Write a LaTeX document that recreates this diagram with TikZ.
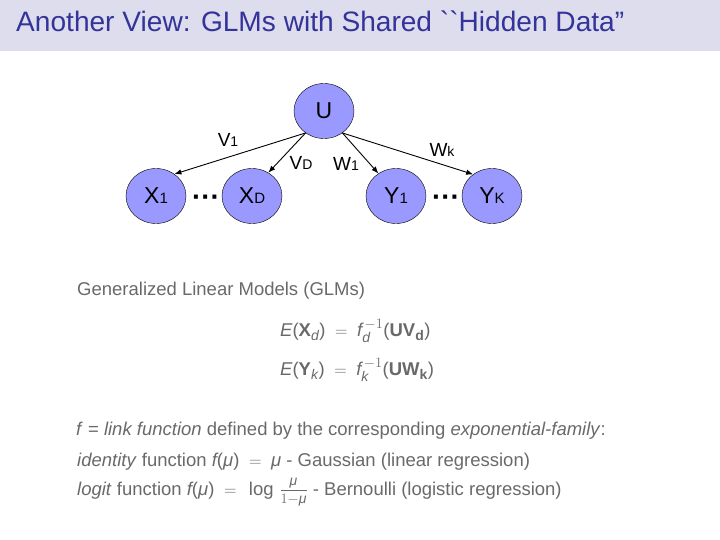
\documentclass[tikz,border=0pt]{standalone}
\usepackage{amsmath}
\usepackage{fontspec}
\setmainfont{Liberation Sans}
\newfontfamily\plainsans{Liberation Sans}[Ligatures=TeXOff]
\usepackage{tikz}
\usetikzlibrary{arrows.meta}
\usetikzlibrary{shapes.geometric}
\usepackage{xcolor}
\definecolor{nodeblue}{RGB}{153,153,255}
\definecolor{titleblue}{RGB}{51,51,153}
\definecolor{bandgray}{RGB}{221,221,238}
\definecolor{textgray}{RGB}{105,105,105}
\DeclareMathSizes{18.5}{18.5}{14}{11}
\newcommand{\nsub}[1]{{\fontsize{15}{15}\selectfont #1}}
\newcommand{\esub}[1]{{\fontsize{14}{14}\selectfont #1}}
\newcommand{\muit}{\text{\itshape μ}}
\newcommand{\lpar}{\text{(}}
\newcommand{\rpar}{\text{)}}
\newcommand{\eqsign}{\;\;{=}\;\;}

\begin{document}
\begin{tikzpicture}[x=1pt,y=-1pt,
  var/.style={ellipse,draw=black,fill=nodeblue,minimum width=60pt,minimum height=55pt,inner sep=0pt,font=\fontsize{23}{23}\selectfont},
  dots/.style={inner sep=0pt,font=\fontsize{28}{28}\selectfont\bfseries},
  elabel/.style={anchor=base,inner sep=0pt,font=\fontsize{19}{19}\selectfont},
  body/.style={anchor=base west,inner sep=0pt,text=textgray,font=\fontsize{18.5}{21}\selectfont},
  link/.style={-{Latex[length=7pt,width=5.5pt]},line width=0.9pt}]
\useasboundingbox (0,0) rectangle (720,540);

\fill[bandgray] (0,0) rectangle (720,51);
\node[anchor=base west,inner sep=0pt,text=titleblue,font=\fontsize{28.1}{30}\selectfont] (title) at (16,32) {Another View: GLMs with Shared {\plainsans ``}Hidden Data”};

\node[var] (U) at (324,111) {U};
\node[var] (X1) at (156,196) {X\nsub{1}};
\node[var] (XD) at (252,196) {X\nsub{D}};
\node[var] (Y1) at (396,196) {Y\nsub{1}};
\node[var] (YK) at (492,196) {Y\nsub{K}};
\node[dots] (xdots) at (206,201) {···};
\node[dots] (ydots) at (446,201) {···};

\draw[link] (U.-130) -- (X1.50);
\draw[link] (U.-130) -- (XD.55);
\draw[link] (U.-50) -- (Y1.128);
\draw[link] (U.-50) -- (YK.131);

\node[elabel] (v1) at (228,147) {V\esub{1}};
\node[elabel] (vd) at (301,170) {V\esub{D}};
\node[elabel] (w1) at (346,171) {W\esub{1}};
\node[elabel] (wk) at (442,157) {W\esub{k}};

\node[body] (glm) at (77,295) {Generalized Linear Models (GLMs)};
\node[body] (eqx) at (280,336) {$\mathit{E}\lpar\mathbf{X}_{\mathit{d}}\rpar\eqsign\mathit{f}_{\mathit{d}}^{\,-1}\lpar\mathbf{UV}_{\mathbf{d}}\rpar$};
\node[body] (eqy) at (280,375) {$\mathit{E}\lpar\mathbf{Y}_{\mathit{k}}\rpar\eqsign\mathit{f}_{\mathit{k}}^{\,-1}\lpar\mathbf{UW}_{\mathbf{k}}\rpar$};

\node[body] (linkfn) at (76,435) {\textit{f} = \textit{link function} defined by the corresponding \textit{exponential-family}:};
\node[body] (ident) at (77,466) {\textit{identity} function $\mathit{f}\lpar\muit\rpar\eqsign\muit$ - Gaussian (linear regression)};
\node[body] (logit) at (77,495) {\textit{logit} function $\mathit{f}\lpar\muit\rpar\eqsign\log\,\frac{\raisebox{2.5pt}{$\scriptstyle\muit$}}{\raisebox{-2.5pt}{$\scriptstyle 1-\muit$}}$ - Bernoulli (logistic regression)};

\end{tikzpicture}
\end{document}
